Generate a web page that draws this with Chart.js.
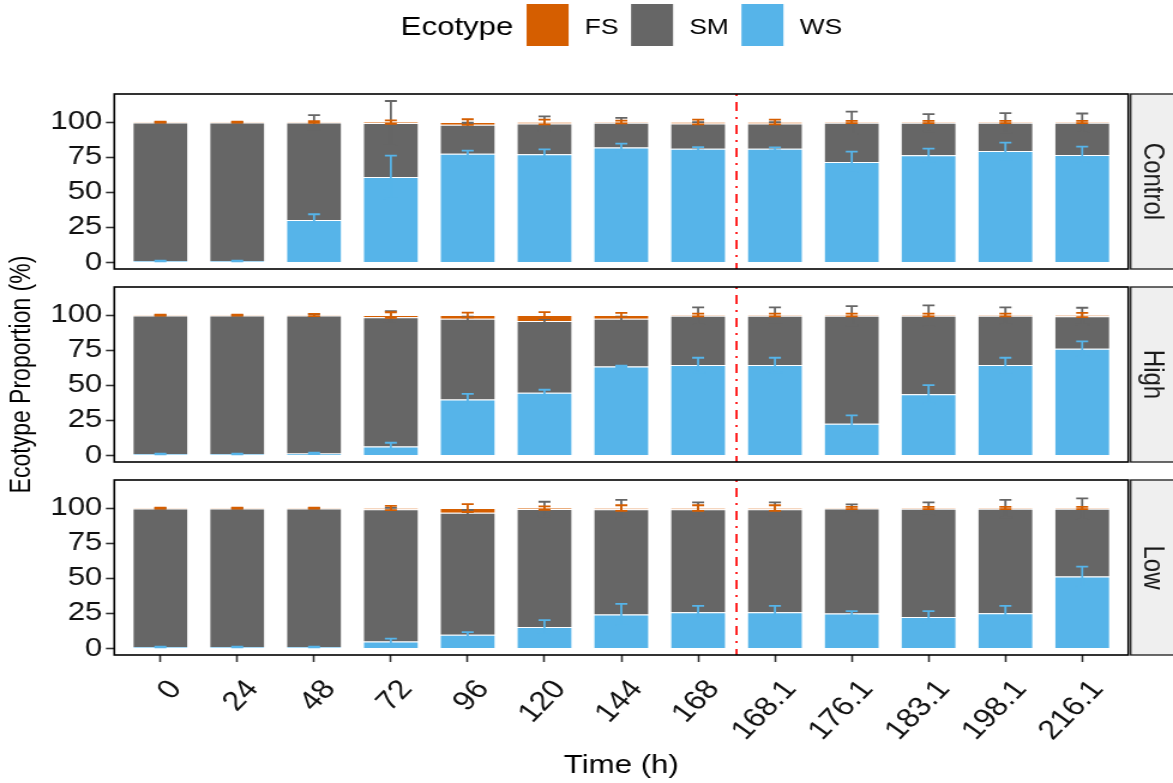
<!DOCTYPE html>
<html>
<head>
<meta charset="utf-8">
<title>Ecotype proportion over time</title>
<script src="https://cdn.jsdelivr.net/npm/chart.js@4.4.1/dist/chart.umd.min.js"></script>
<style>
  body { margin: 0; background: #fff; }
  #wrap { position: relative; width: 1173px; height: 783px; overflow: hidden; }
  #wrap canvas { position: absolute; left: 0; top: 0; }
</style>
</head>
<body>
<div id="wrap">
  <canvas id="ctrlChart" width="978" height="783" style="width:1173px;height:783px"></canvas>
  <canvas id="highChart" width="978" height="783" style="width:1173px;height:783px"></canvas>
  <canvas id="lowChart" width="978" height="783" style="width:1173px;height:783px"></canvas>
</div>
<script>
// sampling times (h); the treatment starts after the first 168
const timeLabels = ['0', '24', '48', '72', '96', '120', '144', '168', '168.1', '176.1', '183.1', '198.1', '216.1'];
const ecotypes = ['FS', 'SM', 'WS'];
const ecotypeColors = { FS: '#D55E00', SM: '#666666', WS: '#56B4E9' };
const yTicks = [0, 25, 50, 75, 100];

// mean proportion (%) and sd per ecotype
const ctrlWS = [1, 1, 30.3, 60.8, 77.5, 77.1, 81.8, 80.9, 80.9, 71.6, 76.4, 79.4, 76.6];
const ctrlSM = [98.7, 98.7, 69.4, 38.5, 20.5, 21.9, 17.7, 18.1, 18.1, 27.9, 23.1, 20.1, 22.9];
const ctrlFS = [0.3, 0.3, 0.3, 0.7, 2, 1, 0.5, 1, 1, 0.5, 0.5, 0.5, 0.5];
const ctrlWSsd = [0.3, 0.3, 4, 15.3, 2.2, 3.5, 2.8, 1.2, 1, 7.3, 4.7, 5.9, 5.9];
const ctrlSMsd = [0.3, 0.3, 5.3, 15.7, 1.5, 5, 3.5, 1, 1, 8, 6.2, 6.9, 6.6];
const ctrlFSsd = [0.3, 0.3, 0.6, 1.2, 2, 1.7, 1, 1.7, 1.7, 0.8, 0.8, 0.8, 0.8];

const highWS = [1, 1, 1.4, 6.4, 39.9, 44.7, 63.4, 64.4, 64.4, 22.6, 43.5, 64.4, 76];
const highSM = [98.7, 98.7, 98.3, 92.1, 57.5, 51, 34, 35.1, 35.1, 76.9, 56, 35.1, 23.2];
const highFS = [0.3, 0.3, 0.3, 1.5, 2.6, 4.3, 2.6, 0.5, 0.5, 0.5, 0.5, 0.5, 0.8];
const highWSsd = [0.3, 0.3, 0.5, 2.6, 4, 2.1, 0.5, 5.2, 5.2, 5.9, 6.6, 5.2, 5.2];
const highSMsd = [0.3, 0.3, 1, 4.3, 1.5, 1.5, 1.5, 6, 6, 6.9, 7.4, 6, 6];
const highFSsd = [0.3, 0.3, 0.8, 2, 1.7, 2.1, 1.5, 1, 1, 1, 1, 1, 1.5];

const lowWS = [1, 1, 1, 5, 9.7, 15.2, 24.2, 25.8, 25.8, 24.9, 22.3, 25.1, 51.2];
const lowSM = [98.7, 98.7, 98.7, 94.2, 87, 84.1, 75, 73.4, 73.4, 74.8, 77.2, 74.4, 48.3];
const lowFS = [0.3, 0.3, 0.3, 0.8, 3.3, 0.7, 0.8, 0.8, 0.8, 0.3, 0.5, 0.5, 0.5];
const lowWSsd = [0.3, 0.3, 0.3, 1.9, 1.9, 5, 7.6, 4.5, 4.5, 1.6, 4.2, 5.2, 7.1];
const lowSMsd = [0.3, 0.3, 0.3, 1, 2, 5.2, 6.7, 4.8, 4.8, 2.9, 4.5, 6.4, 7.4];
const lowFSsd = [0.3, 0.3, 0.3, 1.5, 2.8, 1.2, 2, 2, 2, 0.8, 0.8, 0.8, 0.8];

// canvases are drawn 978 wide and shown 1173 wide
const SX = 1173 / 978;
const FONT = '"Liberation Sans", Arial, sans-serif';
const PLOT_LEFT = 114.3 / SX;
const PLOT_RIGHT = 1128.3 / SX;
Chart.defaults.font.family = FONT;
Chart.defaults.color = '#111';

// box round the panel plus the grey facet strip on its right
const panelFrame = {
    id: 'panelFrame',
    afterDraw(chart, args, opts) {
        const { ctx, chartArea: a } = chart;
        ctx.save();
        const sx = a.right + 2;
        ctx.fillStyle = '#EFEFEF';
        ctx.fillRect(sx, a.top, chart.width - sx + 2, a.bottom - a.top);
        ctx.strokeStyle = '#1A1A1A';
        ctx.lineWidth = 1.3;
        ctx.strokeRect(sx, a.top, chart.width - sx + 4, a.bottom - a.top);
        ctx.fillStyle = '#1A1A1A';
        ctx.font = '24px ' + FONT;
        ctx.textAlign = 'center';
        ctx.textBaseline = 'middle';
        ctx.translate((sx + chart.width) / 2, (a.top + a.bottom) / 2);
        ctx.rotate(Math.PI / 2);
        ctx.fillText(opts.label, 0, 0);
        ctx.restore();

        ctx.save();
        ctx.strokeStyle = '#000';
        ctx.lineWidth = 1.6;
        ctx.strokeRect(a.left, a.top, a.right - a.left, a.bottom - a.top);
        ctx.restore();
    }
};

// sd whiskers at the cumulative top of every segment
const errorBars = {
    id: 'errorBars',
    afterDatasetsDraw(chart, args, opts) {
        const { ctx, scales: { x, y } } = chart;
        const half = (x.getPixelForValue(1) - x.getPixelForValue(0)) * 0.078;
        const sets = chart.data.datasets;
        ctx.save();
        ctx.lineWidth = 1.8;
        sets.forEach((ds, di) => {
            const sd = opts.sd[di];
            ds.data.forEach((pt, j) => {
                let top = 0;
                for (let k = 0; k <= di; k++) top += sets[k].data[j].y;
                const px = x.getPixelForValue(pt.x);
                const y0 = y.getPixelForValue(top - sd[j]);
                const y1 = y.getPixelForValue(top + sd[j]);
                ctx.strokeStyle = ds.backgroundColor;
                ctx.beginPath();
                ctx.moveTo(px, y0);
                ctx.lineTo(px, y1);
                ctx.moveTo(px - half, y0);
                ctx.lineTo(px + half, y0);
                ctx.moveTo(px - half, y1);
                ctx.lineTo(px + half, y1);
                ctx.stroke();
            });
        });
        ctx.restore();
    }
};

// red dot-dash line where the treatment starts
const splitLine = {
    id: 'splitLine',
    afterDatasetsDraw(chart, args, opts) {
        const { ctx, chartArea: a, scales: { x } } = chart;
        const px = x.getPixelForValue(opts.at);
        ctx.save();
        ctx.strokeStyle = '#FF0000';
        ctx.lineWidth = 1.7;
        ctx.setLineDash([2, 6, 9, 6]);
        ctx.beginPath();
        ctx.moveTo(px, a.top);
        ctx.lineTo(px, a.bottom);
        ctx.stroke();
        ctx.restore();
    }
};

// "Ecotype" legend row across the top
const ecotypeLegend = {
    id: 'ecotypeLegend',
    afterDraw(chart, args, opts) {
        const { ctx } = chart;
        ctx.save();
        ctx.textBaseline = 'alphabetic';
        ctx.textAlign = 'left';
        ctx.fillStyle = '#000';
        ctx.font = '26px ' + FONT;
        let x = 400.7 / SX;
        ctx.fillText(opts.title, x, 35.3);
        x += ctx.measureText(opts.title).width + 11;
        ctx.font = '22px ' + FONT;
        opts.items.forEach(name => {
            ctx.fillStyle = ecotypeColors[name];
            ctx.fillRect(x, 4, 42 / SX, 42);
            x += 42 / SX + 13.5;
            ctx.fillStyle = '#000';
            ctx.fillText(name, x, 34.3);
            x += ctx.measureText(name).width + 10.5;
        });
        ctx.restore();
    }
};

function buildPanel(id, label, ws, sm, fs, wsSd, smSd, fsSd, top, bottom, isBottom, withYTitle, withLegend) {
    const series = { WS: ws, SM: sm, FS: fs };
    const order = ['WS', 'SM', 'FS'];
    const datasets = order.map(name => ({
        label: name,
        data: series[name].map((v, i) => ({ x: i, y: v })),
        backgroundColor: ecotypeColors[name],
        borderColor: 'rgba(255,255,255,0.4)',
        borderWidth: 1,
        categoryPercentage: 0.73,
        barPercentage: 1
    }));
    const plugins = [panelFrame, errorBars, splitLine];
    if (withLegend) plugins.push(ecotypeLegend);
    const xAxis = {
        type: 'linear',
        stacked: true,
        offset: false,
        min: -0.6,
        max: 12.6,
        display: isBottom,
        afterBuildTicks: s => { s.ticks = timeLabels.map((t, i) => ({ value: i })); },
        grid: { offset: false, drawOnChartArea: false, tickLength: 7, tickColor: '#333', tickWidth: 1.6 },
        border: { display: false },
        ticks: {
            autoSkip: false,
            maxRotation: 50,
            minRotation: 50,
            padding: 12,
            labelOffset: 13,
            font: { size: 27 },
            color: '#111',
            callback: v => timeLabels[v]
        },
        title: { display: true, text: 'Time (h)', color: '#000', font: { size: 26 }, padding: { top: 0, bottom: 2 } }
    };
    if (isBottom) xAxis.afterFit = s => { s.height = 783 - bottom; };
    return new Chart(document.getElementById(id), {
        type: 'bar',
        data: { datasets },
        plugins,
        options: {
            responsive: false,
            animation: false,
            devicePixelRatio: 1,
            layout: { padding: { top: top, bottom: isBottom ? 0 : 783 - bottom, left: 0, right: 978 - PLOT_RIGHT } },
            plugins: {
                legend: { display: false },
                tooltip: { enabled: false },
                panelFrame: { label },
                errorBars: { sd: [wsSd, smSd, fsSd] },
                splitLine: { at: timeLabels.indexOf('168.1') - 0.5 },
                ecotypeLegend: { title: 'Ecotype', items: ecotypes }
            },
            scales: {
                x: xAxis,
                y: {
                    stacked: true,
                    min: -4.7,
                    max: 120,
                    afterBuildTicks: s => { s.ticks = yTicks.map(v => ({ value: v })); },
                    afterFit: s => { s.width = PLOT_LEFT; },
                    grid: { drawOnChartArea: false, tickLength: 7, tickColor: '#333', tickWidth: 1.6 },
                    border: { display: false },
                    ticks: { font: { size: 26 }, color: '#111', padding: 3 },
                    title: { display: withYTitle, text: 'Ecotype Proportion (%)', color: '#000', font: { size: 23 }, padding: { top: 4.6, bottom: 0 } }
                }
            }
        }
    });
}

buildPanel('ctrlChart', 'Control', ctrlWS, ctrlSM, ctrlFS, ctrlWSsd, ctrlSMsd, ctrlFSsd, 94, 269, false, false, true);
buildPanel('highChart', 'High', highWS, highSM, highFS, highWSsd, highSMsd, highFSsd, 287, 462, false, true, false);
buildPanel('lowChart', 'Low', lowWS, lowSM, lowFS, lowWSsd, lowSMsd, lowFSsd, 480, 655, true, false, false);
</script>
</body>
</html>
